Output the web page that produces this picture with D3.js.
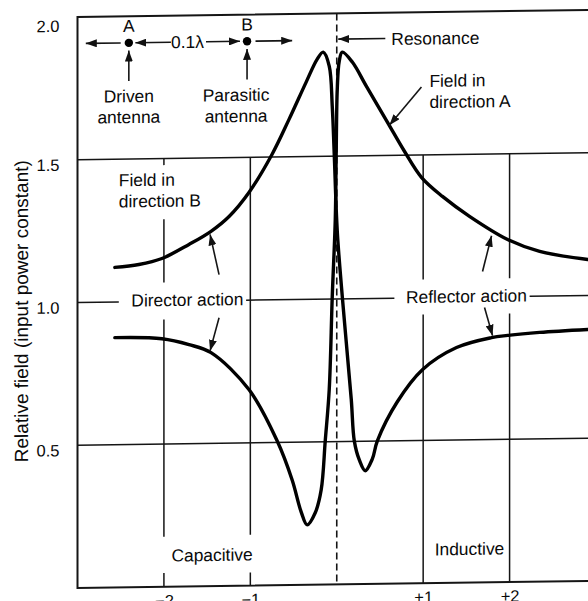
<!DOCTYPE html>
<html>
<head>
<meta charset="utf-8">
<script src="https://cdn.jsdelivr.net/npm/d3@7"></script>
<style>
  html, body { margin: 0; padding: 0; background: #fff; }
  svg { display: block; }
  text { font-family: "Liberation Sans", Arial, Helvetica, sans-serif; fill: #0a0a0a; }
</style>
</head>
<body>
<svg id="chart" width="588" height="601"></svg>
<script>
// Detuning of the parasitic element (reactance, capacitive < 0 < inductive)
// against relative field strength, input power held constant.

// Field in direction A (towards the driven antenna side)
const fieldA_x = [-2.568, -2.023, -1.710, -1.455, -1.014, -0.690, -0.516, -0.412, -0.342, -0.249,
                  -0.180, -0.133, -0.087, -0.052, -0.017, -0.006, 0.006, 0.029, 0.064, 0.180,
                  0.342, 0.586, 0.783, 0.980, 1.223, 1.536, 1.977, 2.348, 2.904];
const fieldA_y = [0.875, 0.869, 0.847, 0.818, 0.686, 0.506, 0.368, 0.256, 0.210, 0.252,
                  0.332, 0.504, 0.683, 1.009, 1.279, 1.525, 1.735, 1.833, 1.864, 1.829,
                  1.744, 1.617, 1.514, 1.422, 1.354, 1.283, 1.200, 1.157, 1.126];

// Field in direction B (towards the parasitic antenna side)
const fieldB_x = [-2.568, -2.290, -2.023, -1.710, -1.455, -1.246, -1.014, -0.748, -0.551, -0.354,
                  -0.226, -0.157, -0.087, -0.052, -0.029, 0.006, 0.064, 0.168, 0.203, 0.261,
                  0.330, 0.412, 0.470, 0.701, 0.991, 1.386, 1.791, 1.977, 2.348, 2.904];
const fieldB_y = [1.121, 1.130, 1.150, 1.198, 1.243, 1.294, 1.378, 1.510, 1.632, 1.761,
                  1.841, 1.865, 1.816, 1.675, 1.507, 1.237, 1.008, 0.647, 0.502, 0.435,
                  0.397, 0.438, 0.501, 0.637, 0.748, 0.824, 0.857, 0.864, 0.873, 0.881];

const yTicks = [0.5, 1.0, 1.5, 2.0];
const xTicks = [-2, -1, 1, 2];
const xTickLabels = ["\u22122", "\u22121", "+1", "+2"];
const resonanceX = 0;

// ---- layout ----
const W = 588, H = 601;
const x = d3.scaleLinear().domain([-3, 3]).range([77.5, 596]);
const y = d3.scaleLinear().domain([0, 2]).range([584.5, 13.5]);
const tilt = 0.0137;   // the printed page sits slightly askew

const svg = d3.select("#chart");
svg.append("rect").attr("width", W).attr("height", H).attr("fill", "#fff");

const defs = svg.append("defs");
defs.append("marker")
  .attr("id", "head")
  .attr("viewBox", "0 0 11 8")
  .attr("refX", 11).attr("refY", 4)
  .attr("markerWidth", 11).attr("markerHeight", 8)
  .attr("markerUnits", "userSpaceOnUse")
  .attr("orient", "auto")
  .append("path").attr("d", "M0,0 L11,4 L0,8 Z").attr("fill", "#111");

const g = svg.append("g")
  .attr("transform", `matrix(1,${-tilt},0,1,0,${tilt * 332})`);

const ink = "#151515";

// ---- grid: breaks leave room for the labels ----
const hGrid = [
  { v: 1.5, spans: [[-3, 3]] },
  { v: 1.0, spans: [[-3, -2.522], [-1.049, 0.667], [2.232, 3]] },
  { v: 0.5, spans: [[-3, 3]] }
];
const vGrid = [
  { v: -2, spans: [[1.5, 1.477], [1.287, 1.066], [0.936, 0.175], [0.048, 0]] },
  { v: -1, spans: [[1.5, 0.178], [0.046, 0]] },
  { v: 1, spans: [[1.5, 1.064], [0.941, 0]] },
  { v: 2, spans: [[1.5, 1.064], [0.941, 0]] }
];
const grid = g.append("g").attr("stroke", ink).attr("stroke-width", 1.5);
hGrid.forEach(h => h.spans.forEach(s => grid.append("line")
  .attr("x1", x(s[0])).attr("x2", x(s[1])).attr("y1", y(h.v)).attr("y2", y(h.v))));
vGrid.forEach(vg => vg.spans.forEach(s => grid.append("line")
  .attr("x1", x(vg.v)).attr("x2", x(vg.v)).attr("y1", y(s[0])).attr("y2", y(s[1]))));

// ---- frame ----
const frame = g.append("g").attr("stroke", ink).attr("stroke-width", 2).attr("fill", "none");
frame.append("path")
  .attr("d", `M${x(3)},${y(2)} L${x(-3)},${y(2)} L${x(-3)},${y(0)} L${x(3)},${y(0)}`);

// ---- axes (labels only) ----
const yAxis = g.append("g").attr("transform", `translate(${x(-3)},5)`)
  .call(d3.axisLeft(y).tickValues(yTicks).tickFormat(d3.format(".1f")).tickSize(0).tickPadding(18));
yAxis.select(".domain").remove();
yAxis.selectAll("text").attr("font-size", 16.5).attr("fill", "#0a0a0a")
  .style("font-family", '"Liberation Sans", Arial, sans-serif');
yAxis.selectAll(".tick").filter(d => d === 2).select("text").attr("dy", "0.55em");

const xAxis = g.append("g").attr("transform", `translate(0,${y(0)})`)
  .call(d3.axisBottom(x).tickValues(xTicks).tickFormat((d, i) => xTickLabels[i]).tickSize(0).tickPadding(8));
xAxis.select(".domain").remove();
xAxis.selectAll("text").attr("font-size", 16.5).attr("fill", "#0a0a0a")
  .style("font-family", '"Liberation Sans", Arial, sans-serif');

g.append("text")
  .attr("transform", `translate(22,307) rotate(-90)`)
  .attr("text-anchor", "middle").attr("dominant-baseline", "central")
  .attr("font-size", 19)
  .text("Relative field (input power constant)");

// ---- resonance marker ----
g.append("line")
  .attr("x1", x(resonanceX)).attr("x2", x(resonanceX))
  .attr("y1", y(2)).attr("y2", y(0))
  .attr("stroke", ink).attr("stroke-width", 1.6).attr("stroke-dasharray", "7,4");

// ---- field curves ----
const line = d3.line()
  .x(d => x(d[0])).y(d => y(d[1]))
  .curve(d3.curveCatmullRom.alpha(0.5));
const series = [
  d3.zip(fieldA_x, fieldA_y),
  d3.zip(fieldB_x, fieldB_y)
];
g.append("g").selectAll("path").data(series).join("path")
  .attr("d", line)
  .attr("fill", "none").attr("stroke", "#000")
  .attr("stroke-width", 3.4).attr("stroke-linejoin", "round").attr("stroke-linecap", "round");

// ---- annotations (positioned in chart units) ----
const labels = [
  { t: "A", x: -2.406, y: 1.966, a: "middle" },
  { t: "B", x: -1.038, y: 1.966, a: "middle" },
  { t: "0.1\u03bb", x: -1.728, y: 1.907, a: "middle" },
  { t: "Driven", x: -2.406, y: 1.720, a: "middle" },
  { t: "antenna", x: -2.406, y: 1.647, a: "middle" },
  { t: "Parasitic", x: -1.165, y: 1.719, a: "middle" },
  { t: "antenna", x: -1.165, y: 1.645, a: "middle" },
  { t: "Resonance", x: 0.632, y: 1.908, a: "start" },
  { t: "Field in", x: 1.072, y: 1.759, a: "start" },
  { t: "direction A", x: 1.072, y: 1.685, a: "start" },
  { t: "Field in", x: -2.522, y: 1.426, a: "start" },
  { t: "direction B", x: -2.522, y: 1.352, a: "start" },
  { t: "Director action", x: -1.728, y: 1.004, a: "middle" },
  { t: "Reflector action", x: 1.501, y: 1.003, a: "middle" },
  { t: "Capacitive", x: -1.443, y: 0.109, a: "middle" },
  { t: "Inductive", x: 1.536, y: 0.118, a: "middle" }
];
g.append("g").selectAll("text").data(labels).join("text")
  .attr("x", d => x(d.x)).attr("y", d => y(d.y))
  .attr("text-anchor", d => d.a).attr("dominant-baseline", "central")
  .attr("font-size", 17.4)
  .text(d => d.t);

const arrows = [
  [[-2.50, 1.907], [-2.904, 1.907]],
  [[-1.919, 1.907], [-2.330, 1.907]],
  [[-1.513, 1.907], [-1.120, 1.907]],
  [[-0.940, 1.907], [-0.516, 1.907]],
  [[-2.406, 1.773], [-2.406, 1.880]],
  [[-1.038, 1.773], [-1.038, 1.880]],
  [[0.562, 1.910], [0.017, 1.910]],
  [[0.980, 1.738], [0.609, 1.606]],
  [[-1.362, 1.091], [-1.466, 1.232]],
  [[-1.362, 0.940], [-1.466, 0.824]],
  [[1.687, 1.089], [1.791, 1.214]],
  [[1.710, 0.963], [1.803, 0.864]]
];
g.append("g").selectAll("line").data(arrows).join("line")
  .attr("x1", d => x(d[0][0])).attr("y1", d => y(d[0][1]))
  .attr("x2", d => x(d[1][0])).attr("y2", d => y(d[1][1]))
  .attr("stroke", ink).attr("stroke-width", 1.6)
  .attr("marker-end", "url(#head)");

// antenna positions
const antennas = [-2.406, -1.038];
g.append("g").selectAll("circle").data(antennas).join("circle")
  .attr("cx", d => x(d)).attr("cy", y(1.907)).attr("r", 4.2).attr("fill", "#000");
</script>
</body>
</html>
